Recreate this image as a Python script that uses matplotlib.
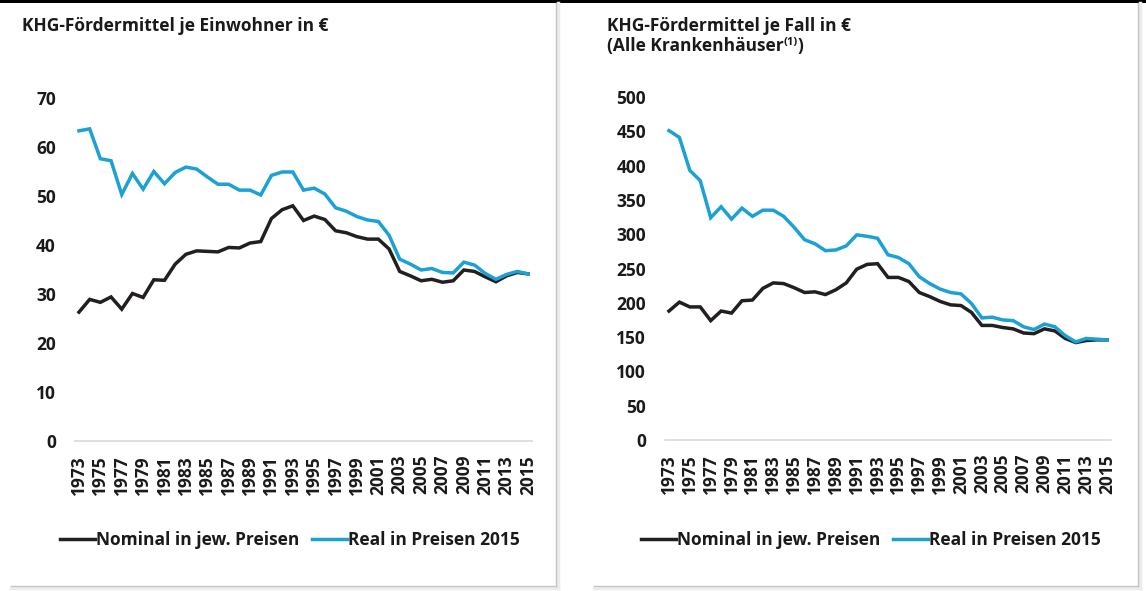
import matplotlib
matplotlib.use('Agg')
import matplotlib.pyplot as plt
from matplotlib.lines import Line2D
from matplotlib.patches import Rectangle

years = list(range(1973, 2016))
tick_years = list(range(1973, 2016, 2))

einw_nominal = [26.3, 28.9, 28.3, 29.4, 26.9, 30.1, 29.3, 32.9, 32.8, 36.1,
                38.1, 38.8, 38.7, 38.6, 39.5, 39.4, 40.4, 40.7, 45.4, 47.2,
                48.0, 45.0, 45.9, 45.2, 42.9, 42.5, 41.7, 41.2, 41.2, 39.2,
                34.6, 33.7, 32.7, 33.0, 32.4, 32.7, 34.9, 34.6, 33.5, 32.5,
                33.7, 34.4, 34.1]
einw_real = [63.3, 63.7, 57.6, 57.2, 50.3, 54.6, 51.4, 55.0, 52.5, 54.8,
             55.9, 55.5, 53.9, 52.4, 52.4, 51.2, 51.2, 50.2, 54.2, 54.9,
             54.9, 51.2, 51.6, 50.4, 47.6, 46.9, 45.8, 45.1, 44.8, 42.0,
             37.1, 36.1, 34.9, 35.2, 34.4, 34.3, 36.5, 35.9, 34.2, 33.0,
             34.0, 34.6, 34.1]
fall_nominal = [188, 201, 194, 194, 174, 188, 185, 203, 204, 221,
                229, 228, 222, 215, 216, 212, 219, 229, 249, 256,
                257, 237, 237, 231, 215, 209, 202, 197, 196, 186,
                167, 167, 164, 162, 156, 155, 162, 159, 148, 142,
                145, 146, 146]
fall_real = [451, 441, 393, 378, 324, 340, 322, 338, 326, 335,
             335, 326, 310, 292, 286, 276, 277, 283, 299, 297,
             294, 270, 266, 257, 238, 228, 220, 215, 213, 199,
             178, 179, 175, 174, 165, 161, 169, 165, 152, 143,
             148, 147, 146]

title_left = "KHG-Fördermittel je Einwohner in €"
title_right_1 = "KHG-Fördermittel je Fall in €"
title_right_2 = "(Alle Krankenhäuser"
title_right_sup = "(1)"
title_right_end = ")"
label_nominal = "Nominal in jew. Preisen"
label_real = "Real in Preisen 2015"

BLACK = '#231f20'
BLUE = '#1ba1d3'
TXT = '#1a1a1a'
W, H = 1146, 591
FS = 12.5

plt.rcParams['font.family'] = ['Open Sans', 'DejaVu Sans']
plt.rcParams['font.weight'] = 'bold'

fig = plt.figure(figsize=(W / 100, H / 100), dpi=100)

def fx(x):
    return x / W

def fy(y):
    return 1 - y / H

# top black bar
fig.add_artist(Rectangle((0, fy(3)), 1, 3 / H, transform=fig.transFigure,
                         color='black', lw=0))

# panel borders
def panel(x0, x1, ytop, ybot):
    fig.add_artist(Line2D([fx(x1 + 1.5), fx(x1 + 1.5)], [fy(ytop), fy(ybot + 1.5)],
                          transform=fig.transFigure, color='#ececec', lw=2.5))
    fig.add_artist(Line2D([fx(x0), fx(x1 + 1.5)], [fy(ybot + 1.5), fy(ybot + 1.5)],
                          transform=fig.transFigure, color='#ececec', lw=2.5))
    fig.add_artist(Line2D([fx(x1), fx(x1)], [fy(ytop), fy(ybot)],
                          transform=fig.transFigure, color='#c4c4c4', lw=1))
    fig.add_artist(Line2D([fx(x0), fx(x1)], [fy(ybot), fy(ybot)],
                          transform=fig.transFigure, color='#c4c4c4', lw=1))

panel(11, 556, 3, 586)
panel(594, 1138, 3, 586)

def style_axes(ax, yticks):
    ax.set_xlim(1972.6, 2015.4)
    ax.set_ylim(yticks[0], yticks[-1])
    for s in ['top', 'right', 'left']:
        ax.spines[s].set_visible(False)
    ax.spines['bottom'].set_color('#d9d9d9')
    ax.spines['bottom'].set_linewidth(1.2)
    ax.set_yticks(yticks)
    ax.set_xticks(tick_years)
    ax.set_xticklabels([str(y) for y in tick_years], rotation=90, fontsize=FS,
                       fontweight='bold', color=TXT)
    ax.tick_params(axis='both', length=0)
    ax.tick_params(axis='y', pad=13.5, labelsize=FS, labelcolor=TXT)
    ax.tick_params(axis='x', pad=10)
    for lab in ax.get_yticklabels():
        lab.set_fontweight('bold')
    ax.patch.set_alpha(0)

ax1 = fig.add_axes([fx(74.7), 150 / H, (532.3 - 74.7) / W, 343 / H])
ax1.plot(years, einw_nominal, color=BLACK, lw=2.5, solid_joinstyle='miter')
ax1.plot(years, einw_real, color=BLUE, lw=2.5, solid_joinstyle='miter')
style_axes(ax1, list(range(0, 71, 10)))

ax2 = fig.add_axes([fx(664.8), 151 / H, 446.4 / W, 343 / H])
ax2.plot(years, fall_nominal, color=BLACK, lw=2.5, solid_joinstyle='miter')
ax2.plot(years, fall_real, color=BLUE, lw=2.5, solid_joinstyle='miter')
style_axes(ax2, list(range(0, 501, 50)))

# legends
for ax, x0 in [(ax1, 60), (ax2, 641)]:
    handles = [Line2D([], [], color=BLACK, lw=2.5), Line2D([], [], color=BLUE, lw=2.5)]
    ax.legend(handles, [label_nominal, label_real], loc='center left',
              bbox_to_anchor=(fx(x0), fy(540)), bbox_transform=fig.transFigure,
              ncol=2, frameon=False, handlelength=2.0,
              handletextpad=0.1, columnspacing=0.7, borderpad=0, borderaxespad=0,
              prop={'weight': 'bold', 'size': FS}, labelcolor=TXT)

# titles
fig.text(fx(22), fy(31), title_left, fontsize=FS, fontweight='bold',
         color=TXT, va='baseline', ha='left')
fig.text(fx(607), fy(31), title_right_1, fontsize=FS, fontweight='bold',
         color=TXT, va='baseline', ha='left')
t2 = fig.text(fx(607), fy(51), title_right_2, fontsize=FS, fontweight='bold',
              color=TXT, va='baseline', ha='left')
fig.canvas.draw()
r = fig.canvas.get_renderer()
bb = t2.get_window_extent(r)
t3 = fig.text(bb.x1 / W, fy(51) + 6 / H, title_right_sup, fontsize=8, fontweight='bold',
              color=TXT, va='baseline', ha='left')
bb3 = t3.get_window_extent(r)
fig.text(bb3.x1 / W, fy(51), title_right_end, fontsize=FS, fontweight='bold',
         color=TXT, va='baseline', ha='left')

fig.savefig('out.png', dpi=100)
